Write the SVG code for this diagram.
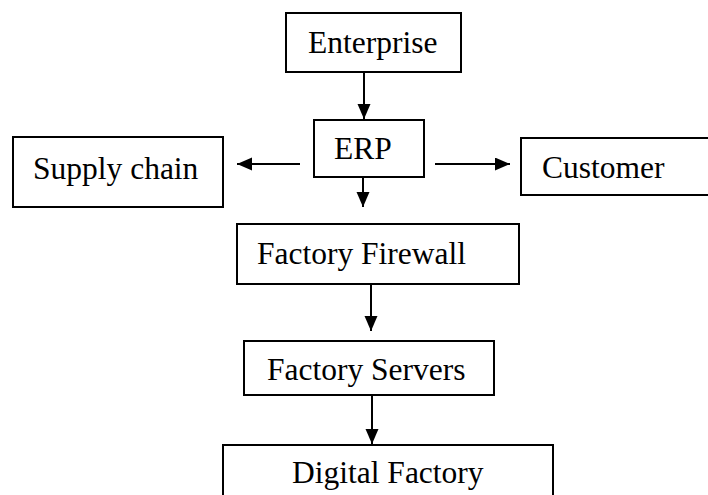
<svg xmlns="http://www.w3.org/2000/svg" width="708" height="495" viewBox="0 0 708 495">
  <defs>
    <marker id="arrow" markerUnits="userSpaceOnUse" markerWidth="16" markerHeight="14" refX="15" refY="6.5" orient="auto">
      <path d="M0,0 L15,6.5 L0,13 Z" fill="#000"/>
    </marker>
  </defs>
  <style>
    .box { fill: #fff; stroke: #000; stroke-width: 2; }
    .label { font-family: "Liberation Serif", "Times New Roman", serif; font-size: 31.5px; fill: #000; }
    .conn { stroke: #000; stroke-width: 2; fill: none; marker-end: url(#arrow); }
  </style>
  <rect width="708" height="495" fill="#fff"/>

  <g id="enterprise">
    <rect class="box" x="286" y="13" width="175" height="59"/>
    <text class="label" x="308" y="53">Enterprise</text>
  </g>
  <g id="erp">
    <rect class="box" x="314" y="120" width="110" height="57"/>
    <text class="label" x="334" y="159">ERP</text>
  </g>
  <g id="supply-chain">
    <rect class="box" x="13" y="137" width="210" height="70"/>
    <text class="label" x="33" y="179">Supply chain</text>
  </g>
  <g id="customer">
    <rect class="box" x="521" y="138" width="200" height="57"/>
    <text class="label" x="542" y="178">Customer</text>
  </g>
  <g id="factory-firewall">
    <rect class="box" x="237" y="224" width="282" height="60"/>
    <text class="label" x="257" y="264">Factory Firewall</text>
  </g>
  <g id="factory-servers">
    <rect class="box" x="244" y="341" width="250" height="54"/>
    <text class="label" x="267" y="380">Factory Servers</text>
  </g>
  <g id="digital-factory">
    <rect class="box" x="223" y="445" width="330" height="60"/>
    <text class="label" x="292" y="483">Digital Factory</text>
  </g>

  <g id="connectors">
    <line class="conn" x1="364" y1="72" x2="364" y2="119"/>
    <line class="conn" x1="363" y1="177" x2="363" y2="207"/>
    <line class="conn" x1="300" y1="164" x2="237" y2="164"/>
    <line class="conn" x1="435" y1="164" x2="510" y2="164"/>
    <line class="conn" x1="371" y1="284" x2="371" y2="331"/>
    <line class="conn" x1="372" y1="395" x2="372" y2="444"/>
  </g>
</svg>
